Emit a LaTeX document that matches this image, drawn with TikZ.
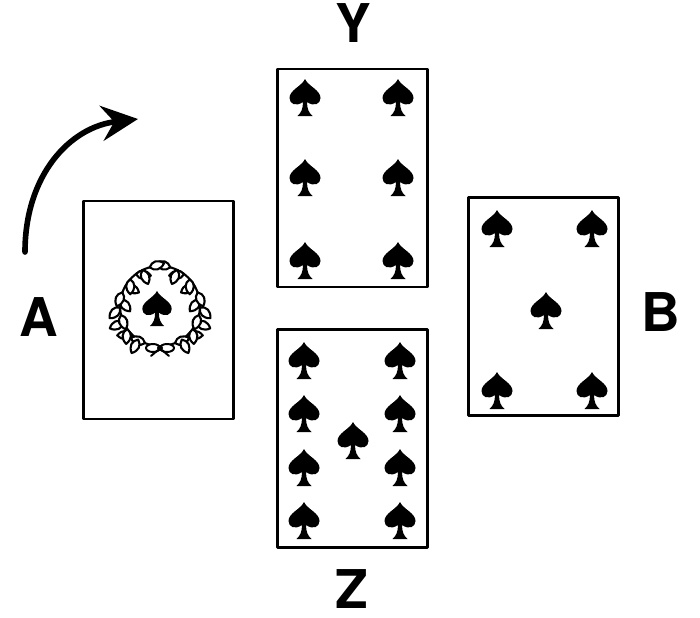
\documentclass[tikz,border=0pt]{standalone}
\usepackage{fontspec}
\setsansfont{TeX Gyre Heros}
\usetikzlibrary{arrows.meta}
\tikzset{
  card/.style={draw,line width=2pt,minimum width=3.75cm,minimum height=5.45cm,inner sep=0pt},
  letter/.style={font=\sffamily\bfseries\fontsize{38}{38}\selectfont,inner sep=0pt},
  turn/.style={line width=4pt,-{Stealth[length=26pt,width=25pt,inset=9pt]}},
  spade/.pic={\fill (0,-18) .. controls (-3,-11) and (-15.5,-7) .. (-15.5,1) .. controls (-15.5,7) and (-9,10) .. (-2,5) .. controls (-2,12) and (-4,16) .. (-7.5,19) -- (7.5,19) .. controls (4,16) and (2,12) .. (2,5) .. controls (9,10) and (15.5,7) .. (15.5,1) .. controls (15.5,-7) and (3,-11) .. (0,-18) -- cycle;},
  leaf/.pic={\draw[line width=1.5pt,fill=white] (0,0) .. controls (4,-5.5) and (10,-5.5) .. (15,0) .. controls (10,5.5) and (4,5.5) .. (0,0) -- cycle;}
}
\begin{document}
\begin{tikzpicture}[line cap=round,line join=round,x=0.025cm,y=-0.025cm]
\useasboundingbox (0,0) rectangle (700,618);
\node[card] (cardA) at (158.5,310) {};
\node[card] (cardY) at (352.5,178) {};
\node[card] (cardZ) at (352.5,438.5) {};
\node[card] (cardB) at (543.5,306.5) {};
\node[letter] (labelA) at (39,317) {A};
\node[letter] (labelY) at (353,23) {Y};
\node[letter] (labelZ) at (352,589) {Z};
\node[letter] (labelB) at (661,312) {B};
\coordinate (turnstart) at (25,252);
\coordinate (turnend) at (138,119);
\draw[turn] (turnstart) .. controls (25,175) and (70,127) .. (turnend);
\foreach \x in {305,398}
  \foreach \y in {97,177,260}
    \pic at (\x,\y) {spade};
\foreach \x in {304,400}
  \foreach \y in {360,413,467,520}
    \pic at (\x,\y) {spade};
\pic at (353,440) {spade};
\foreach \x/\y in {497/228,592/228,546/310,497/390,592/390}
  \pic at (\x,\y) {spade};
\pic[scale=0.95] at (157,308) {spade};
\begin{scope}[shift={(160,306)}]
\draw[line width=1.5pt] (80:40) arc (80:-82:40);
\draw[line width=1.5pt] (100:40) arc (100:262:40);
\foreach \a in {68,46,...,-64} {
  \pic[rotate=\a-48] at (\a:40) {leaf};
  \pic[rotate=\a-132] at ({\a-11}:40) {leaf};
}
\foreach \a in {112,134,...,244} {
  \pic[rotate=\a+48] at (\a:40) {leaf};
  \pic[rotate=\a+132] at ({\a+11}:40) {leaf};
}
\draw[line width=1.4pt,fill=white] (-7,42) ellipse (7 and 4);
\draw[line width=1.4pt,fill=white] (7,42) ellipse (7 and 4);
\draw[line width=1.4pt] (-2,44) -- (-9,50);
\draw[line width=1.4pt] (2,44) -- (9,50);
\fill (0,42) circle (3);
\end{scope}
\end{tikzpicture}
\end{document}
